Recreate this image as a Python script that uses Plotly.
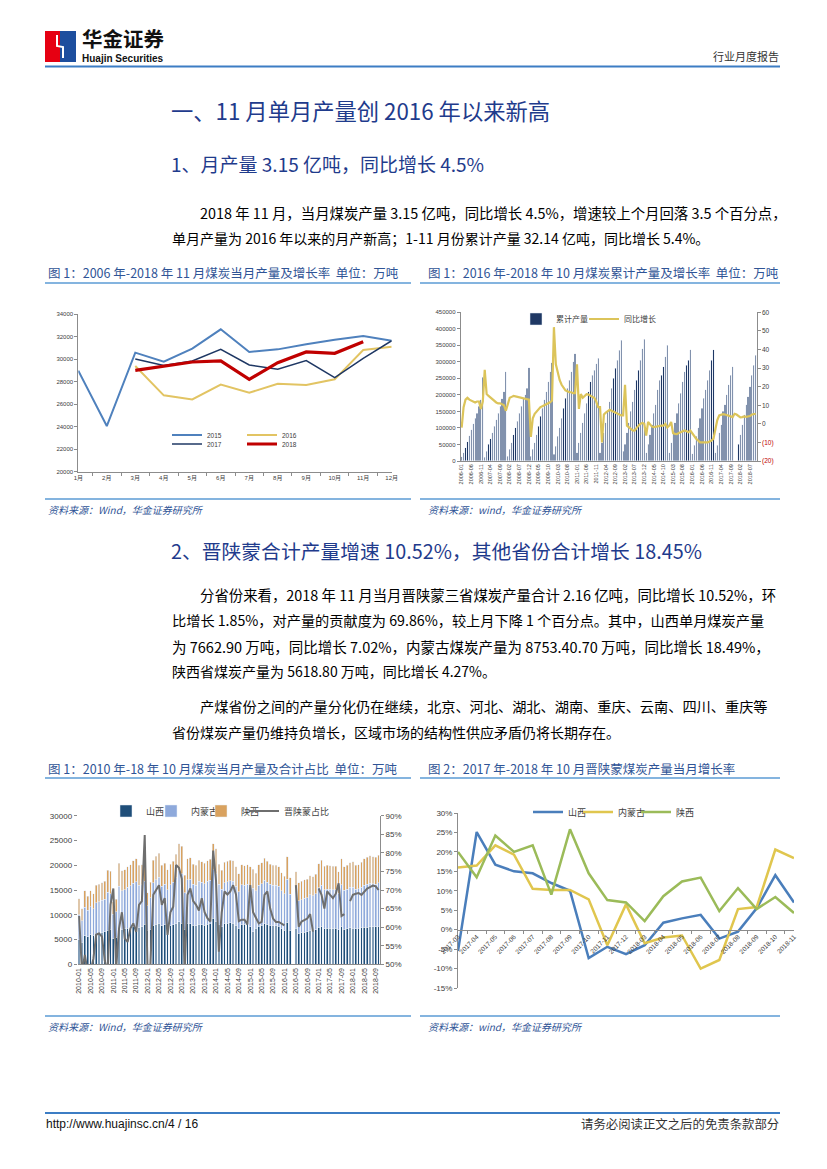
import plotly.graph_objects as go

W, H = 827, 1169
OFF = 8  # page body offset of the rendered figure
def px(x): return (x - OFF) / W
def py(y): return 1 - (y - OFF) / H

CJK = "Noto Sans CJK SC"
NUM = "Liberation Sans, Noto Sans CJK SC"
AX = "#8C8C8C"
TXT = "#404040"
BLUE_T = "#1F3B8C"
CAP = "#2F5496"

# ---------------- Chart 1 data: 当月产量 (万吨) ----------------
months1 = ["1月", "2月", "3月", "4月", "5月", "6月", "7月", "8月", "9月", "10月", "11月", "12月"]
y2015 = [28970, 24050, 30570, 29770, 30920, 32640, 30630, 30860, 31310, 31720, 32050, 31630]
y2016 = [None, None, 29380, 26780, 26420, 27730, 27010, 27810, 27700, 28200, 30800, 31100]
y2017 = [None, None, 30000, 29440, 29830, 30860, 29470, 29090, 29860, 28350, 30060, 31630]
y2018 = [None, None, 29000, 29350, 29740, 29830, 28200, 29680, 30630, 30510, 31540, None]

# ---------------- Chart 2 data: 累计产量 (万吨) & 同比增长 (%) ----------------
months2 = [f"{y}-{m:02d}" for y in range(2006, 2019) for m in range(1, 13)][:154]
cum_2006 = [13000, 25000, 40000, 58000, 77000, 95000, 112000, 130000, 145000, 165000, 185000, 253000]
cum_2007 = [12000, 30000, 50000, 68000, 85000, 105000, 125000, 145000, 165000, 188000, 210000, 270000]
cum_2008 = [15000, 35000, 55000, 80000, 100000, 120000, 145000, 165000, 190000, 200000, 220000, 282000]
cum_2009 = [15000, 35000, 55000, 80000, 105000, 135000, 160000, 185000, 210000, 240000, 270000, 297000]
cum_2010 = [20000, 45000, 75000, 100000, 130000, 160000, 190000, 220000, 245000, 270000, 300000, 324000]
cum_2011 = [25000, 55000, 85000, 115000, 145000, 175000, 210000, 240000, 260000, 275000, 295000, 311000]
cum_2012 = [25000, 55000, 85000, 115000, 150000, 180000, 220000, 250000, 280000, 305000, 335000, 366000]
cum_2013 = [30000, 50000, 85000, 115000, 150000, 180000, 215000, 245000, 275000, 305000, 340000, 369000]
cum_2014 = [25000, 50000, 80000, 110000, 145000, 170000, 215000, 245000, 260000, 285000, 315000, 351000]
cum_2015 = [25000, 55000, 85000, 115000, 145000, 175000, 205000, 240000, 270000, 290000, 305000, 336000]
cum_2016 = [22000, 48000, 75000, 100000, 130000, 160000, 190000, 215000, 245000, 275000, 305000, 336000]
cum_2017 = [25000, 48000, 85000, 110000, 150000, 170000, 200000, 230000, 260000, 285000, None, None]
cum_2018 = [50000, 80000, 110000, 140000, 170000, 195000, 225000, 260000, 290000, 320000]
cum_output = (cum_2006 + cum_2007 + cum_2008 + cum_2009 + cum_2010 + cum_2011 + cum_2012
              + cum_2013 + cum_2014 + cum_2015 + cum_2016 + cum_2017 + cum_2018)

g_2006 = [-2, 9, 13, 14, 13, 12.5, 12, 11.5, 12, 12, 8, 12]
g_2007 = [29, 16, 15, 14, 13, 12, 11.5, 11, 11, 10.5, 10, 7]
g_2008 = [10, 14, 14.5, 15, 14.8, 14.5, 14.2, 14, 13.8, 13.5, 13.4, 13]
g_2009 = [-7, 3, 5.4, 6.5, 8, 9, 9.5, 10, 10.5, 11, 11.6, 12.5]
g_2010 = [52, 32, 27, 23.5, 21, 19.5, 18, 17.5, 17, 17, 16.5, 16.5]
g_2011 = [32, 8, 16, 14, 15, 16, 15.8, 15, 14.5, 14, 12, 9]
g_2012 = [9, -10, 5, 6, 7, 7.5, 7, 6.5, 6, 5.5, 5, 4.5]
g_2013 = [4.5, 21, -1, -2, -3, -3.5, -3.6, -2, -1, 0, 0.5, 0]
g_2014 = [-6.3, 1, -0.5, -1.5, -1.8, -1.5, -1.5, -1.2, -1, -1, 0, -2]
g_2015 = [-1, 1, -5, -5.4, -5.5, -5, -4.5, -4, -3.6, -4, -4.5, -3.6]
g_2016 = [-5, -7, -8, -9, -10, -10, -10, -10, -10, -9.5, -9, -8]
g_2017 = [-1.8, 2, 4.5, 5, 5.2, 5, 4.8, 4.5, 4, 3.6, 5.4, 5]
g_2018 = [4.2, 3.5, 3.6, 4, 3.8, 4, 4.2, 5, 5.2, 5.4]
growth = (g_2006 + g_2007 + g_2008 + g_2009 + g_2010 + g_2011 + g_2012
          + g_2013 + g_2014 + g_2015 + g_2016 + g_2017 + g_2018)

right2_vals = [-20, -10, 0, 10, 20, 30, 40, 50, 60]
right2_text = ['<span style="color:#C00000">(20)</span>', '<span style="color:#C00000">(10)</span>',
               "0", "10", "20", "30", "40", "50", "60"]

# ---------------- Chart 3 data: 晋陕蒙 当月产量 (万吨) & 占比 ----------------
months3 = [f"{y}-{m:02d}" for y in range(2010, 2019) for m in range(1, 13)][:106]
shanxi = [
    5000, 4500, 5800, 5600, 6000, 5900, 6200, 6300, 6500, 6600, 6900, 7000,
    5300, 5500, 7200, 7000, 7200, 7300, 7500, 7600, 7700, 7400, 7600, 8100,
    6800, 7000, 7900, 8100, 8300, 7800, 8000, 7500, 7800, 8000, 8200, 8600,
    8300, 7000, 8200, 8200, 7900, 7800, 8100, 8000, 7900, 8100, 8300, 9300,
    8700, 8000, 7600, 8200, 8300, 8400, 8300, 7900, 7300, 8000, 8100, 8200,
    7600, 6600, 7300, 7700, 7900, 8200, 8100, 7900, 7800, 7800, 7700, 7200,
    6900, 8500, 6900, None, 7300, 6300, 6400, 6500, 6600, 6900, 6800, 7000,
    7500, 7600, 7200, 7300, 7300, 7200, 7300, 7000, 7600, 7100, 7200, 7400,
    7300, 7200, 7300, 7400, 7500, 7500, 7600, 7600, 7600, 7700]
neimenggu = [
    5000, 4300, 5700, 5300, 5600, 5300, 6200, 6300, 6400, 6500, 7600, 7200,
    4800, 5100, 8600, 7900, 7900, 8300, 8400, 8800, 9000, 8600, 8500, 8700,
    5000, 6400, 8600, 9000, 9300, 8000, 8200, 7600, 8300, 8600, 9300, 10300,
    10000, 7400, 8900, 9000, 8300, 8200, 8700, 8600, 8400, 8700, 8700, 9800,
    9600, 8200, 7600, 8300, 8400, 8500, 8500, 7900, 7300, 8100, 7900, 8000,
    8200, 8800, 7600, 8300, 8400, 8800, 8500, 8300, 8200, 8200, 8100, 7600,
    7300, 8700, 7200, None, 7500, 6500, 6600, 6800, 6800, 7100, 7000, 7200,
    8000, 8400, 7900, 7900, 7900, 7900, 7800, 7300, 8500, 7900, 8000, 8200,
    8300, 8000, 8000, 8200, 8500, 8700, 8800, 8700, 8600, 8800]
shaanxi = [
    3200, 2400, 3400, 2800, 3300, 3000, 3600, 3600, 3600, 3700, 4500, 4600,
    2500, 2500, 4600, 4000, 4000, 4100, 4200, 4500, 4600, 4000, 4000, 4200,
    2600, 3200, 4500, 4700, 4800, 4200, 4200, 4000, 4100, 4200, 4700, 5400,
    5500, 3600, 4200, 4300, 4000, 4000, 4200, 4100, 4100, 4100, 4200, 5200,
    5000, 4000, 3800, 4100, 4100, 4100, 4100, 3900, 3700, 4000, 3900, 3900,
    3900, 3800, 3500, 4100, 4200, 4400, 4200, 4000, 4000, 4000, 3900, 3700,
    3600, 4500, 3400, None, 3900, 3700, 3800, 3800, 3800, 3900, 3900, 4000,
    4800, 5000, 4700, 4800, 4700, 4700, 4700, 4400, 5200, 4700, 4800, 4900,
    5100, 4800, 4800, 5000, 5300, 5400, 5500, 5400, 5400, 5500]
share = [
    0.63, 0.48, 0.525, 0.48, 0.48, 0.515, 0.58, 0.583, 0.575, 0.51, 0.48, 0.66,
    0.704, 0.49, 0.597, 0.64, 0.57, 0.56, 0.597, 0.61, 0.587, 0.66, 0.67, 0.848,
    0.48, 0.50, 0.687, 0.70, 0.713, 0.66, 0.678, 0.579, 0.64, 0.655, 0.767, 0.76,
    0.73, 0.48, 0.687, 0.704, 0.67, 0.66, 0.645, 0.678, 0.64, 0.624, 0.615, 0.806,
    0.725, 0.534, 0.64, 0.696, 0.688, 0.696, 0.713, 0.688, 0.616, 0.62, 0.62, 0.607,
    0.713, 0.64, 0.623, 0.61, 0.614, 0.687, 0.696, 0.65, 0.623, 0.614, 0.614, 0.61,
    0.605, None, None, None, 0.713, 0.601, 0.615, 0.62, 0.623, 0.635, 0.588, None,
    0.704, 0.687, 0.65, 0.696, 0.687, 0.678, 0.69, 0.718, 0.63, 0.635, None, 0.67,
    0.687, 0.69, 0.692, 0.687, 0.696, 0.704, 0.708, 0.712, 0.71, 0.70]

# ---------------- Chart 4 data: 当月增长率 (%) ----------------
cats4 = ["2017-03", "2017-04", "2017-05", "2017-06", "2017-07", "2017-08", "2017-09", "2017-10",
         "2017-11", "2017-12", "2018-03", "2018-04", "2018-05", "2018-06", "2018-07", "2018-08",
         "2018-09", "2018-10", "2018-11"]
shanxi4 = [-5.5, 25.1, 16.7, 15.0, 14.5, 12.0, 10.0, -7.3, -4.4, -6.3, -4.0, 1.8, 2.9, 3.8, -2.3, -0.5, 5.5, 14.0, 7.0]
nmg4 = [16.0, 16.5, 21.7, 19.3, 10.5, 10.2, 10.2, 7.8, -4.0, 6.5, -3.5, -2.0, -1.5, -10.0, -7.8, 5.3, 5.8, 20.6, 18.4]
shaanxi4 = [20.0, 13.5, 24.2, 20.0, 21.7, 9.0, 25.8, 14.5, 7.6, 7.0, 2.2, 8.6, 12.4, 13.4, 4.8, 10.7, 5.3, 8.4, 4.3]
y4_vals = [-15, -10, -5, 0, 5, 10, 15, 20, 25, 30]
y4_text = ["-15%", "-10%", "-5%", "0%", "5%", "10%", "15%", "20%", "25%", "30%"]

fig = go.Figure()

# ---- chart 1 traces
c1 = [("2015", y2015, "#4F81BD", 2.0, "legend"),
      ("2016", y2016, "#E2C463", 2.0, "legend2"),
      ("2017", y2017, "#1F3864", 1.5, "legend3"),
      ("2018", y2018, "#C00000", 3.2, "legend4")]
for name, ys, col, wd, lg in c1:
    fig.add_trace(go.Scatter(x=months1, y=ys, name=name, mode="lines",
                             line=dict(color=col, width=wd), xaxis="x", yaxis="y",
                             legend=lg, connectgaps=False))

# ---- chart 2 traces
fig.add_trace(go.Bar(x=months2, y=cum_output, name="累计产量", marker_color="#1F3864",
                     xaxis="x2", yaxis="y2", legend="legend5"))
fig.add_trace(go.Scatter(x=months2, y=growth, name="同比增长", mode="lines",
                         line=dict(color="#DCC45A", width=2.2), xaxis="x2", yaxis="y3",
                         legend="legend6"))

# ---- chart 3 traces
fig.add_trace(go.Bar(x=months3, y=shanxi, name="山西", marker_color="#1F4E79",
                     xaxis="x3", yaxis="y4", legend="legend7"))
fig.add_trace(go.Bar(x=months3, y=neimenggu, name="内蒙古", marker_color="#8EA9DB",
                     xaxis="x3", yaxis="y4", legend="legend8"))
fig.add_trace(go.Bar(x=months3, y=shaanxi, name="陕西", marker_color="#D9A25F",
                     xaxis="x3", yaxis="y4", legend="legend9"))
fig.add_trace(go.Scatter(x=months3, y=share, name="晋陕蒙占比", mode="lines",
                         line=dict(color="#6E6E6E", width=2), xaxis="x3", yaxis="y5",
                         legend="legend10", connectgaps=False))

# ---- chart 4 traces
for name, ys, col, lg in [("山西", shanxi4, "#4A7EBB", "legend11"),
                          ("内蒙古", nmg4, "#E0C64E", "legend12"),
                          ("陕西", shaanxi4, "#9BBB59", "legend13")]:
    fig.add_trace(go.Scatter(x=cats4, y=ys, name=name, mode="lines",
                             line=dict(color=col, width=2.5), xaxis="x4", yaxis="y6", legend=lg))

def leg(xtext, y, size):
    return dict(x=px(xtext - 40), y=py(y), xanchor="left", yanchor="middle",
                orientation="h", bgcolor="rgba(0,0,0,0)", borderwidth=0, itemwidth=30,
                font=dict(family=NUM, size=size, color=TXT), itemclick=False)

axbase = dict(showgrid=False, zeroline=False, showline=True, linecolor=AX, linewidth=1,
              tickcolor=AX, tickfont=dict(family=NUM, color=TXT), automargin=False)

# zero position for chart 4 x-axis
d4 = (py(988), py(813))
zero_pos4 = d4[0] + (0 - (-15)) / 45 * (d4[1] - d4[0])

fig.update_layout(
    width=W, height=H, margin=dict(l=0, r=0, t=0, b=0, autoexpand=False),
    paper_bgcolor="white", plot_bgcolor="white",
    barmode="stack", bargap=0.4, showlegend=True,
    legend=leg(207, 435, 6.5), legend2=leg(282, 435, 6.5),
    legend3=leg(207, 444, 6.5), legend4=leg(282, 444, 6.5),
    legend5=leg(556, 319, 8), legend6=leg(624, 319, 8),
    legend7=leg(146, 811, 9), legend8=leg(191, 811, 9),
    legend9=leg(241, 811, 9), legend10=leg(284, 811, 9),
    legend11=leg(568, 812, 9), legend12=leg(618, 812, 9), legend13=leg(676, 812, 9),
    # chart 1
    xaxis=dict(**axbase, domain=[px(78.3), px(391.7)], anchor="y", type="category",
               ticks="outside", ticklen=3, tickson="boundaries"),
    yaxis=dict(**axbase, domain=[py(471.7), py(314)], anchor="x", range=[20000, 34000],
               dtick=2000, tickformat="d", ticks="outside", ticklen=3),
    # chart 2
    xaxis2=dict(**axbase, domain=[px(460.7), px(756.7)], anchor="y2", type="category",
                tickvals=months2[0::5], ticktext=months2[0::5], tickangle=-90, ticks=""),
    yaxis2=dict(**axbase, domain=[py(461), py(312.3)], anchor="x2", range=[0, 450000],
                dtick=50000, tickformat="d", ticks="outside", ticklen=3),
    yaxis3=dict(**axbase, overlaying="y2", side="right", anchor="x2", range=[-20, 60],
                tickvals=right2_vals, ticktext=right2_text, ticks="outside", ticklen=3),
    # chart 3
    xaxis3=dict(**axbase, domain=[px(77.7), px(380)], anchor="y4", type="category",
                tickvals=months3[0::4], ticktext=months3[0::4], tickangle=-90, ticks=""),
    yaxis4=dict(**{**axbase, "showline": False}, domain=[py(964.3), py(815.7)], anchor="x3",
                range=[0, 30000], dtick=5000, tickformat="d", ticks="outside", ticklen=3),
    yaxis5=dict(**axbase, overlaying="y4", side="right", anchor="x3", range=[0.5, 0.9],
                dtick=0.05, tickformat=".0%", ticks="outside", ticklen=3),
    # chart 4
    xaxis4=dict(**axbase, domain=[px(458), px(794)], anchor="free", position=zero_pos4,
                type="category", tickangle=-45, ticks="outside", ticklen=3, tickson="boundaries"),
    yaxis6=dict(**axbase, domain=[d4[0], d4[1]], anchor="x4", range=[-15, 30],
                tickvals=y4_vals, ticktext=y4_text, ticks="outside", ticklen=3),
)

fig.update_layout(
    xaxis_tickfont_size=6, yaxis_tickfont_size=6,
    xaxis2_tickfont_size=5.5, yaxis2_tickfont_size=6, yaxis3_tickfont_size=6.5,
    xaxis3_tickfont_size=7, yaxis4_tickfont_size=8, yaxis5_tickfont_size=8,
    xaxis4_tickfont_size=6.5, yaxis6_tickfont_size=8,
)

# ---------------- page texts ----------------
anns = []
def ann(text, x, y, size, color="#000000", xanchor="left", family=CJK):
    anns.append(dict(text=text, x=px(x), y=py(y), xref="paper", yref="paper",
                     xanchor=xanchor, yanchor="middle", showarrow=False, borderpad=0,
                     font=dict(family=family, size=size, color=color)))

ann("<b>华金证券</b>", 81, 38, 20.5, "#111111")
ann("<b>Huajin Securities</b>", 81, 59, 10, "#111111", family="Liberation Sans")
ann("行业月度报告", 780, 56, 11, "#333333", xanchor="right")

ann("一、11 月单月产量创 2016 年以来新高", 170, 110, 22.3, BLUE_T)
ann("1、月产量 3.15 亿吨，同比增长 4.5%", 170, 163, 19, BLUE_T)
ann("2018 年 11 月，当月煤炭产量 3.15 亿吨，同比增长 4.5%，增速较上个月回落 3.5 个百分点，", 199, 213, 14.4)
ann("单月产量为 2016 年以来的月产新高；1-11 月份累计产量 32.14 亿吨，同比增长 5.4%。", 171, 238, 14)

ann("图 1：2006 年-2018 年 11 月煤炭当月产量及增长率  单位：万吨", 47, 272, 12.5, CAP)
ann("图 1：2016 年-2018 年 10 月煤炭累计产量及增长率  单位：万吨", 427, 272, 12.5, CAP)
ann("<i>资料来源：Wind，华金证券研究所</i>", 47, 509, 10, CAP)
ann("<i>资料来源：wind，华金证券研究所</i>", 427, 509, 10, CAP)

ann("2、晋陕蒙合计产量增速 10.52%，其他省份合计增长 18.45%", 170, 550, 19.8, BLUE_T)
ann("分省份来看，2018 年 11 月当月晋陕蒙三省煤炭产量合计 2.16 亿吨，同比增长 10.52%，环", 199, 594, 14.4)
ann("比增长 1.85%，对产量的贡献度为 69.86%，较上月下降 1 个百分点。其中，山西单月煤炭产量", 171, 620, 14.2)
ann("为 7662.90 万吨，同比增长 7.02%，内蒙古煤炭产量为 8753.40.70 万吨，同比增长 18.49%，", 171, 646, 14.5)
ann("陕西省煤炭产量为 5618.80 万吨，同比增长 4.27%。", 171, 671, 14)
ann("产煤省份之间的产量分化仍在继续，北京、河北、湖北、湖南、重庆、云南、四川、重庆等", 199, 706, 14.2)
ann("省份煤炭产量仍维持负增长，区域市场的结构性供应矛盾仍将长期存在。", 171, 732, 14)

ann("图 1：2010 年-18 年 10 月煤炭当月产量及合计占比  单位：万吨", 47, 768, 12.5, CAP)
ann("图 2：2017 年-2018 年 10 月晋陕蒙煤炭产量当月增长率", 427, 768, 12.5, CAP)
ann("<i>资料来源：Wind，华金证券研究所</i>", 47, 1026, 10, CAP)
ann("<i>资料来源：wind，华金证券研究所</i>", 427, 1026, 10, CAP)

ann("http://www.huajinsc.cn/4 / 16", 45, 1124, 12, "#111111", family="Liberation Sans Narrow, Liberation Sans")
ann("请务必阅读正文之后的免责条款部分", 780, 1124, 12.4, "#333333", xanchor="right")

shapes = []
def hline(x0, x1, y, color, width):
    shapes.append(dict(type="line", xref="paper", yref="paper", x0=px(x0), x1=px(x1),
                       y0=py(y), y1=py(y), line=dict(color=color, width=width)))

hline(45, 780, 66.5, "#3C7DC4", 2)
hline(45, 780, 1113, "#3C7DC4", 2)
for yy in (283, 499, 778, 1016):
    hline(45, 411, yy, "#5B9BD5", 1.5)
    hline(420, 780, yy, "#5B9BD5", 1.5)

# logo
shapes.append(dict(type="rect", xref="paper", yref="paper", x0=px(45), x1=px(60),
                   y0=py(62), y1=py(31), line_width=0, fillcolor="#E60012"))
shapes.append(dict(type="rect", xref="paper", yref="paper", x0=px(60), x1=px(76),
                   y0=py(62), y1=py(31), line_width=0, fillcolor="#1D4E9E"))
shapes.append(dict(type="path", xref="paper", yref="paper",
                   path=f"M {px(57)} {py(35)} L {px(57)} {py(46)} L {px(63)} {py(47)} L {px(63)} {py(58)}",
                   line=dict(color="white", width=2)))

fig.update_layout(annotations=anns, shapes=shapes)

fig.write_html("out.html")
